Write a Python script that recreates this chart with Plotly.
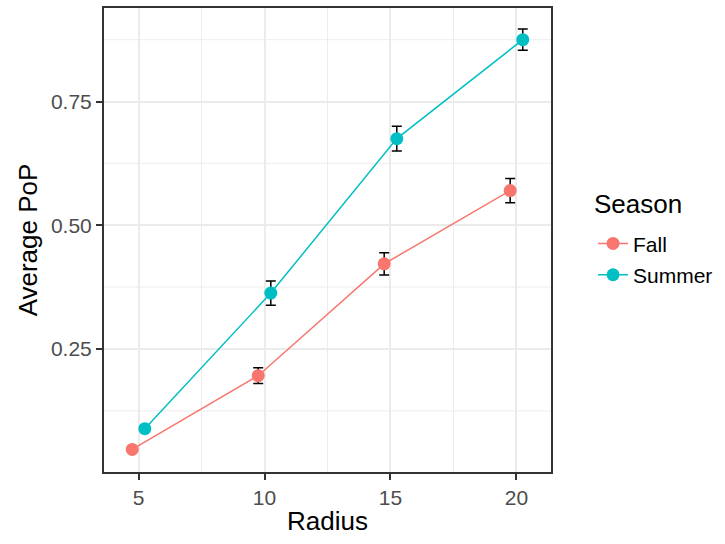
import plotly.graph_objects as go

radius = [5, 10, 15, 20]
seasons = ["Fall", "Summer"]
fall_pop = [0.047, 0.196, 0.422, 0.570]
fall_err = [0.003, 0.016, 0.0225, 0.0245]
summer_pop = [0.089, 0.363, 0.675, 0.875]
summer_err = [0.006, 0.0245, 0.025, 0.0215]
colors = {"Fall": "#F8766D", "Summer": "#00BFC4"}
dodge = {"Fall": -0.25, "Summer": 0.25}
values = {"Fall": (fall_pop, fall_err), "Summer": (summer_pop, summer_err)}

x_ticks = [5, 10, 15, 20]
y_ticks = [0.25, 0.50, 0.75]
y_tick_text = ["0.25", "0.50", "0.75"]

fig = go.Figure()
for s in seasons:
    ys, es = values[s]
    fig.add_trace(go.Scatter(
        x=[r + dodge[s] for r in radius], y=ys, name=s, legendgroup=s,
        mode="lines+markers",
        line=dict(color=colors[s], width=1.5),
        marker=dict(color=colors[s], size=13),
        error_y=dict(type="data", array=es, color="black", thickness=1.5, width=5),
    ))

grid = "#EBEBEB"
shapes = []
for xv in [7.5, 12.5, 17.5]:
    shapes.append(dict(type="line", xref="x", yref="paper", x0=xv, x1=xv, y0=0, y1=1,
                       line=dict(color=grid, width=0.9), layer="below"))
for yv in [0.125, 0.375, 0.625, 0.875]:
    shapes.append(dict(type="line", xref="paper", yref="y", x0=0, x1=1, y0=yv, y1=yv,
                       line=dict(color=grid, width=0.9), layer="below"))

fig.update_layout(
    width=725, height=544,
    margin=dict(l=104, r=174, t=6, b=72),
    paper_bgcolor="white", plot_bgcolor="white",
    font=dict(family="Liberation Sans, Arial, sans-serif", color="black"),
    shapes=shapes,
    showlegend=True,
    annotations=[dict(text="Season", xref="paper", yref="paper", x=1.091, y=0.577,
                      xanchor="left", yanchor="middle", showarrow=False,
                      font=dict(size=26, color="black"))],
    legend=dict(
        font=dict(size=21),
        x=1.094, xanchor="left", y=0.536, yanchor="top",
        tracegroupgap=1,
        bgcolor="rgba(0,0,0,0)",
    ),
    xaxis=dict(
        range=[3.63, 21.37], tickvals=x_ticks, ticktext=[str(t) for t in x_ticks],
        showgrid=True, gridcolor=grid, gridwidth=1.7, zeroline=False,
        showline=True, linecolor="#333333", linewidth=2, mirror=True,
        ticks="outside", ticklen=6, tickcolor="#333333", tickwidth=1.6,
        tickfont=dict(size=21, color="#4D4D4D"),
        title=dict(text="Radius", font=dict(size=26), standoff=4),
    ),
    yaxis=dict(
        range=[0.0014, 0.939], tickvals=y_ticks, ticktext=y_tick_text,
        showgrid=True, gridcolor=grid, gridwidth=1.7, zeroline=False,
        showline=True, linecolor="#333333", linewidth=2, mirror=True,
        ticks="outside", ticklen=6, tickcolor="#333333", tickwidth=1.6,
        tickfont=dict(size=21, color="#4D4D4D"),
        title=dict(text="Average PoP", font=dict(size=26), standoff=6),
    ),
)

fig.write_html("out.html", post_script="document.body.style.margin='0';",
               config={"displayModeBar": False})
